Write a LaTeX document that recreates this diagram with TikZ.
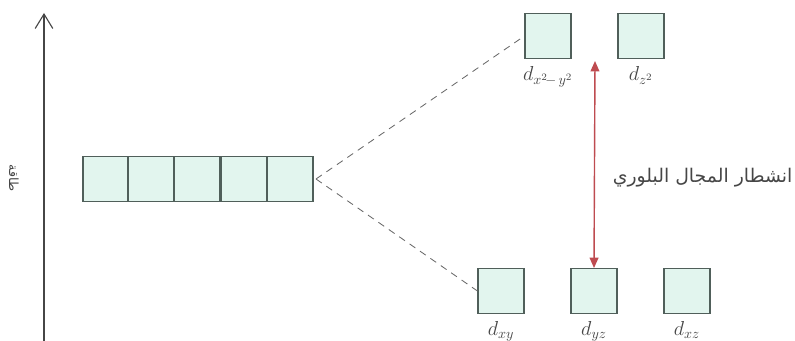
\documentclass[tikz,border=0pt]{standalone}
\usepackage{fontspec}
\usepackage{amsmath}
\usepackage{tikz}
\usetikzlibrary{arrows.meta, positioning}
\TeXXeTstate=1
\newfontfamily\arabicfont[Script=Arabic]{DejaVu Sans}
\definecolor{orbfill}{RGB}{226,245,238}
\definecolor{orbline}{RGB}{80,95,90}
\definecolor{splitred}{RGB}{190,75,80}
\definecolor{dashgray}{RGB}{105,105,105}
\definecolor{axgray}{RGB}{70,70,70}
\tikzset{
  orb/.style={rectangle, draw=orbline, fill=orbfill, line width=0.8pt,
    minimum width=1.15cm, minimum height=1.12cm, inner sep=0pt},
  orblabel/.style={font=\Large, text=axgray},
  splitarrow/.style={{Triangle[length=2.6mm,width=2.2mm]}-{Triangle[length=2.6mm,width=2.2mm]},
    line width=1pt, color=splitred},
  axisarrow/.style={-{Straight Barb[length=3.6mm,width=4.4mm]}, line width=0.8pt, color=axgray},
  dashline/.style={dashed, dash pattern=on 5pt off 4pt, line width=0.6pt, color=dashgray}
}

\begin{document}
\begin{tikzpicture}[x=0.025cm, y=-0.025cm]
  \useasboundingbox (0,0) rectangle (795,341);

  % energy axis
  \coordinate (axbot) at (44,341);
  \coordinate (axtop) at (44,13);
  \draw[axisarrow] (axbot) -- (axtop);
  \node[rotate=-90, text=axgray, font=\arabicfont\small] (energy) at (14,178) {\beginR طاقة\endR};

  % degenerate d orbitals
  \foreach \i/\x in {1/106, 2/151, 3/197, 4/244, 5/290}
    \node[orb] (e\i) at (\x,179) {};

  % split orbitals
  \node[orb] (dxy2) at (548,36) {};
  \node[orb] (dz2) at (641,36) {};
  \node[orb] (dxy) at (501,291) {};
  \node[orb] (dyz) at (594,291) {};
  \node[orb] (dxz) at (687,291) {};

  \node[orblabel, below=2pt of dxy2] (lxy2) {$d_{x^2\!-\,y^2}$};
  \node[orblabel, below=2pt of dz2] (lz2) {$d_{z^2}$};
  \node[orblabel, below=2pt of dxy] (lxy) {$d_{xy}$};
  \node[orblabel, below=2pt of dyz] (lyz) {$d_{yz}$};
  \node[orblabel, below=2pt of dxz] (lxz) {$d_{xz}$};

  \coordinate (fork) at (316,179);
  \draw[dashline] (fork) -- (dxy2.west);
  \draw[dashline] (fork) -- (dxy.west);

  % splitting
  \coordinate (splittop) at (595,61);
  \draw[splitarrow] (splittop) -- (dyz.north);
  \node[font=\arabicfont\fontsize{13.4}{16}\selectfont, text=axgray, anchor=east, inner sep=1pt] (delta) at (794,178) {\beginR انشطار المجال البلوري\endR};
\end{tikzpicture}
\end{document}
